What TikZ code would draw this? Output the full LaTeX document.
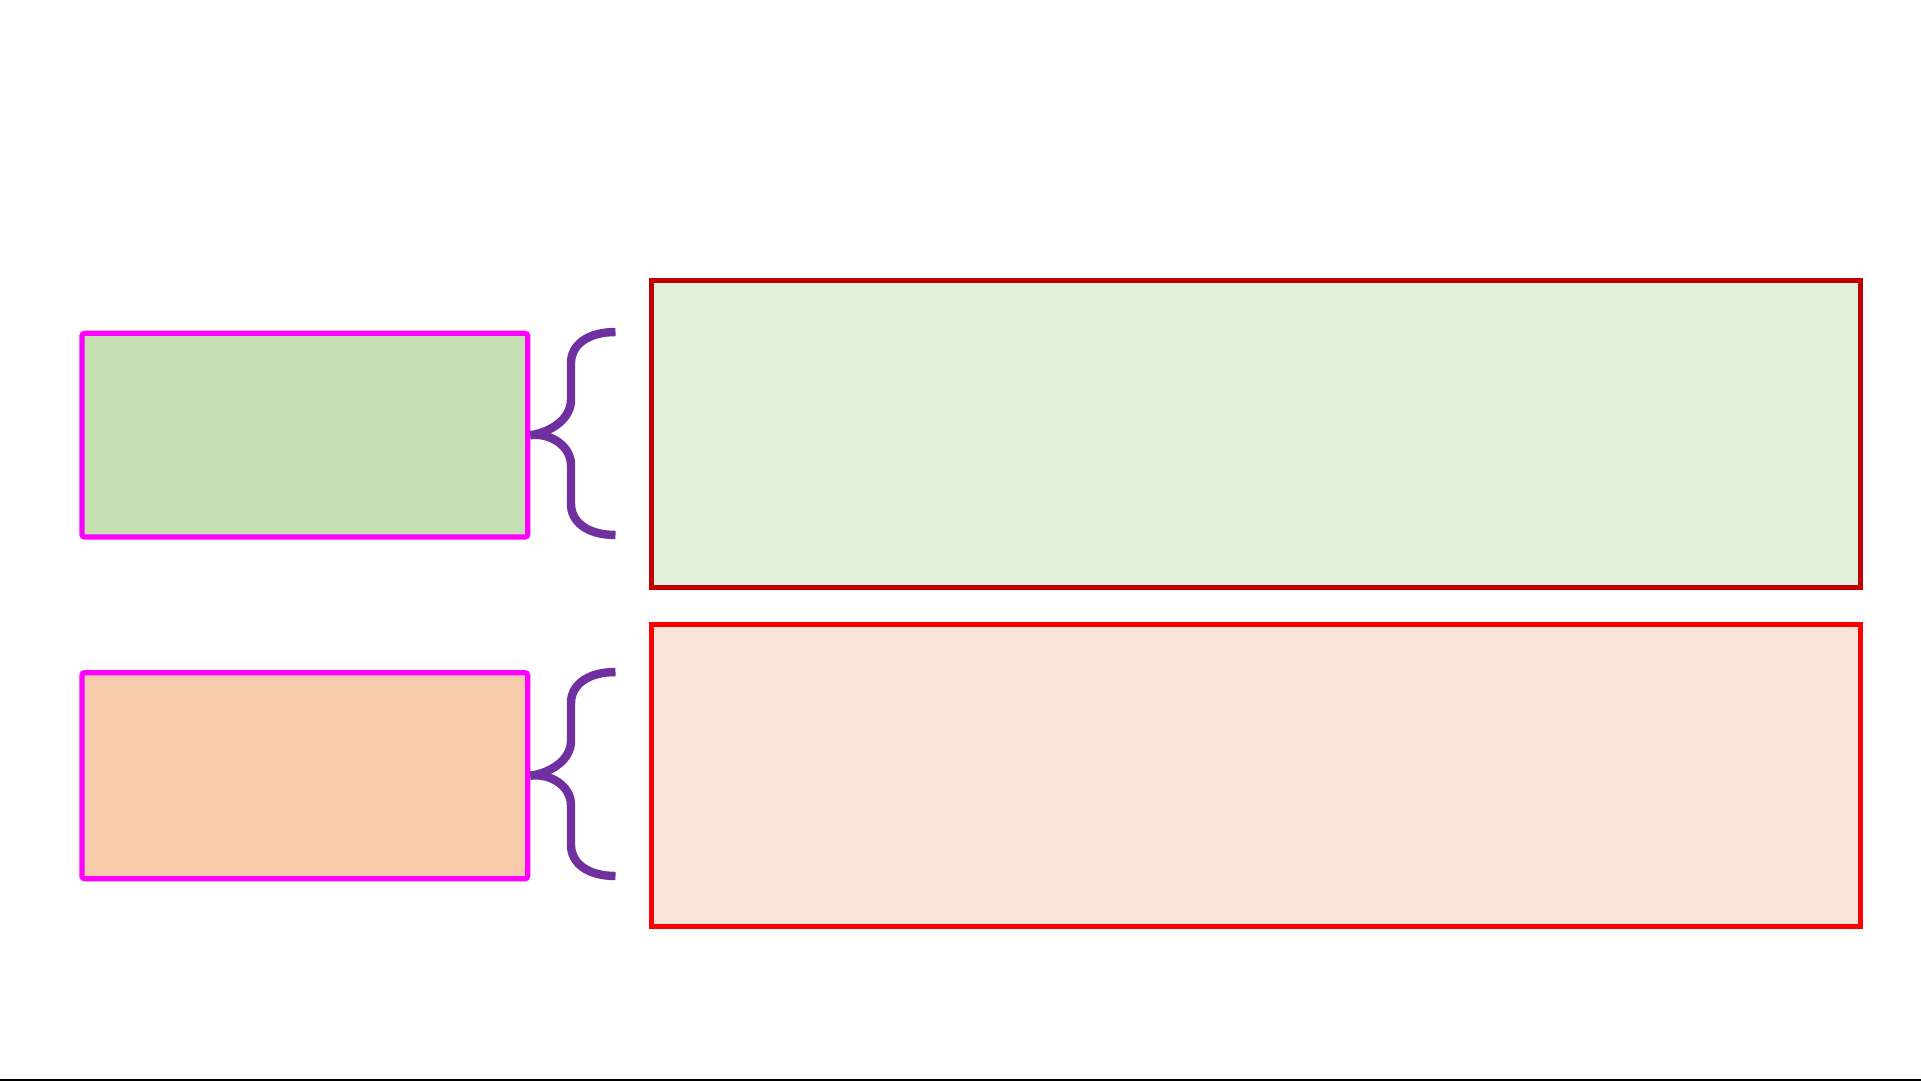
\documentclass[tikz,border=0pt]{standalone}
\begin{document}
\begin{tikzpicture}[x=0.01cm,y=-0.01cm,
  leftbox/.style={draw=magenta!100, line width=1.5pt, rounded corners=0.8pt, inner sep=0pt, anchor=north west, minimum width=4.455cm},
  rightbox/.style={line width=1.35pt, inner sep=0pt, anchor=north west, minimum width=12.08cm},
  brace/.style={draw=bracepurple, line width=2.4pt}]
\definecolor{magenta}{HTML}{FF00FF}
\definecolor{lgreen}{HTML}{C6E0B4}
\definecolor{lpeach}{HTML}{F8CBAD}
\definecolor{bracepurple}{HTML}{7030A0}
\definecolor{dred}{HTML}{C00000}
\definecolor{pgreen}{HTML}{E2EFDA}
\definecolor{ppeach}{HTML}{FAE4D7}
\useasboundingbox (0,0) rectangle (1921,1081);
\fill[white] (0,0) rectangle (1921,1081);
\begin{scope}[shift={(-2.5,-2)}]
% left boxes
\node[leftbox, fill=lgreen, minimum height=2.036cm] (g) at (81.8,332.7) {};
\node[leftbox, fill=lpeach, minimum height=2.06cm] (p) at (81.8,672) {};
% right boxes
\node[rightbox, draw=dred, fill=pgreen, minimum height=3.067cm] (G) at (651.7,280.3) {};
\node[rightbox, draw=red, fill=ppeach, minimum height=3.019cm] (P) at (651.7,624.3) {};
% brace end points
\coordinate (gt) at (618,334);
\coordinate (gb) at (618,537);
\coordinate (pt) at (618,674);
\coordinate (pb) at (618,878);
% braces
\draw[brace] (gt) .. controls (590,334) and (573.5,347) .. (573.5,365) -- (573.5,402)
  .. controls (573.5,421) and (553,434.5) .. (g.east)
  .. controls (553,434.5) and (573.5,448) .. (573.5,467) -- (573.5,506)
  .. controls (573.5,524) and (590,537) .. (gb);
\draw[brace] (pt) .. controls (590,674) and (573.5,687) .. (573.5,705) -- (573.5,743)
  .. controls (573.5,762) and (553,775) .. (p.east)
  .. controls (553,775) and (573.5,788) .. (573.5,807) -- (573.5,847)
  .. controls (573.5,865) and (590,878) .. (pb);
\end{scope}
% bottom rule
\coordinate (bl) at (0,1080);
\coordinate (br) at (1921,1080);
\draw[black, line width=0.8pt] (bl) -- (br);
\end{tikzpicture}
\end{document}
